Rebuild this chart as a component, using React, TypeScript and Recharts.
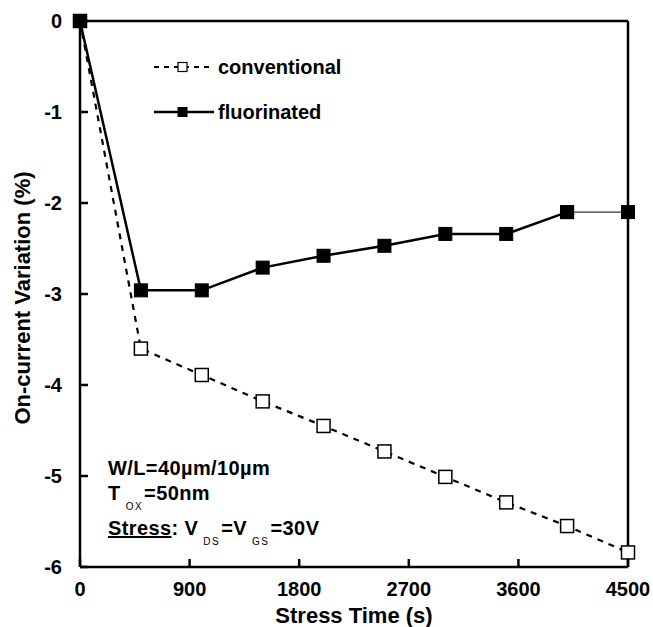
import React from 'react';
import { LineChart, Line, XAxis, YAxis } from 'recharts';

const stressTime = [0, 500, 1000, 1500, 2000, 2500, 3000, 3500, 4000, 4500];
const conventional = [0, -3.6, -3.89, -4.18, -4.45, -4.73, -5.01, -5.29, -5.55, -5.84];
const fluorinated = [0, -2.96, -2.96, -2.71, -2.58, -2.47, -2.34, -2.34, -2.1, -2.1];
const xTicks = [0, 900, 1800, 2700, 3600, 4500];
const yTicks = [0, -1, -2, -3, -4, -5, -6];

const lastIdx = stressTime.length - 1;
const data = stressTime.map((t, i) => ({
  t,
  conventional: conventional[i],
  fluorMain: i < lastIdx ? fluorinated[i] : null,
  fluorTail: i >= lastIdx - 1 ? fluorinated[i] : null,
}));

const FONT = '"Liberation Sans", Arial, sans-serif';

const OpenSquare = (props: any) => {
  const { cx, cy, index } = props;
  if (cx == null || cy == null) return <g key={`o${index}`} />;
  return (
    <rect key={`o${index}`} x={cx - 6.5} y={cy - 6.5} width={13} height={13}
      fill="#fff" stroke="#000" strokeWidth={1.5} />
  );
};

const FilledSquare = (props: any) => {
  const { cx, cy, index } = props;
  if (cx == null || cy == null) return <g key={`f${index}`} />;
  return (
    <rect key={`f${index}`} x={cx - 6.5} y={cy - 6.5} width={13} height={13}
      fill="#000" stroke="#000" strokeWidth={1} />
  );
};

const tickStyle = { fill: '#000', fontSize: 20, fontWeight: 700, fontFamily: FONT };
const titleStyle = { fill: '#000', fontSize: 22, fontWeight: 700, fontFamily: FONT };
const axisLine = { stroke: '#000', strokeWidth: 2.5 };
const tickLine = { stroke: '#000', strokeWidth: 2.5 };

const LegendBox = () => (
  <div style={{ position: 'absolute', left: 154, top: 55, fontFamily: FONT, fontWeight: 700, fontSize: 20, color: '#000' }}>
    <div style={{ display: 'flex', alignItems: 'center', height: 24 }}>
      <svg width={64} height={20}>
        <line x1={0} y1={10} x2={60} y2={10} stroke="#000" strokeWidth={2.2} strokeDasharray="5 5" />
        <rect x={24} y={5.5} width={9} height={9} fill="#fff" stroke="#000" strokeWidth={1.2} />
      </svg>
      <span>conventional</span>
    </div>
    <div style={{ display: 'flex', alignItems: 'center', height: 24, marginTop: 21 }}>
      <svg width={64} height={20}>
        <line x1={0} y1={10} x2={60} y2={10} stroke="#000" strokeWidth={2.5} />
        <rect x={24} y={5.5} width={9} height={9} fill="#000" stroke="#000" strokeWidth={1} />
      </svg>
      <span>fluorinated</span>
    </div>
  </div>
);

const sub: React.CSSProperties = {
  fontSize: 10,
  fontWeight: 400,
  letterSpacing: 1.5,
  position: 'relative',
  top: 10,
  margin: '0 1px 0 5px',
};

const annot: React.CSSProperties = {
  position: 'absolute', left: 108, fontSize: 20, fontWeight: 700, color: '#000',
  lineHeight: '24px', whiteSpace: 'nowrap', letterSpacing: 0.4,
};

export default function App() {
  return (
    <div style={{ position: 'absolute', left: 0, top: 0, width: 653, height: 627, background: '#fff', fontFamily: FONT }}>
      <LineChart width={653} height={627} data={data}
        margin={{ top: 20, right: 24, bottom: 0, left: 20 }}>
        <XAxis dataKey="t" type="number" domain={[0, 4500]} ticks={xTicks}
          axisLine={axisLine} tickLine={tickLine}
          tickSize={-8} tickMargin={23} height={60} tick={tickStyle}
          interval={0}
          label={{ value: 'Stress Time (s)', position: 'insideBottom', offset: 4, style: titleStyle }} />
        <XAxis xAxisId="top" orientation="top" dataKey="t" type="number" domain={[0, 4500]}
          ticks={xTicks} axisLine={axisLine} tickLine={tickLine}
          tickSize={-8} height={1} tick={false} interval={0} />
        <YAxis type="number" domain={[-6, 0]} ticks={yTicks} width={60}
          axisLine={axisLine} tickLine={tickLine}
          tickSize={-8} tickMargin={26} tick={tickStyle} interval={0}
          label={{ value: 'On-current Variation (%)', angle: -90, position: 'center', dx: -28, dy: 4,
            style: { ...titleStyle, textAnchor: 'middle' } }} />
        <YAxis yAxisId="right" orientation="right" type="number" domain={[-6, 0]} ticks={yTicks}
          width={1} axisLine={axisLine} tickLine={tickLine}
          tickSize={-8} tick={false} interval={0} />
        <Line xAxisId="top" yAxisId="right" dataKey="conventional" stroke="none" dot={false}
          activeDot={false} isAnimationActive={false} legendType="none" />
        <Line dataKey="conventional" name="conventional" stroke="#000" strokeWidth={2.2}
          strokeDasharray="6 6" dot={OpenSquare} activeDot={false} isAnimationActive={false} />
        <Line dataKey="fluorMain" name="fluorinated" stroke="#000" strokeWidth={2.5}
          dot={FilledSquare} activeDot={false} isAnimationActive={false} />
        <Line dataKey="fluorTail" name="fluorinated tail" stroke="#000" strokeWidth={1}
          dot={FilledSquare} activeDot={false} isAnimationActive={false} legendType="none" />
      </LineChart>
      <LegendBox />
      <div style={{ ...annot, top: 456 }}>W/L=40µm/10µm</div>
      <div style={{ ...annot, top: 481 }}>
        T<span style={sub}>OX</span>=50nm
      </div>
      <div style={{ ...annot, top: 516 }}>
        <span style={{ textDecoration: 'underline' }}>Stress</span>: V<span style={sub}>DS</span>=V<span style={sub}>GS</span>=30V
      </div>
    </div>
  );
}
